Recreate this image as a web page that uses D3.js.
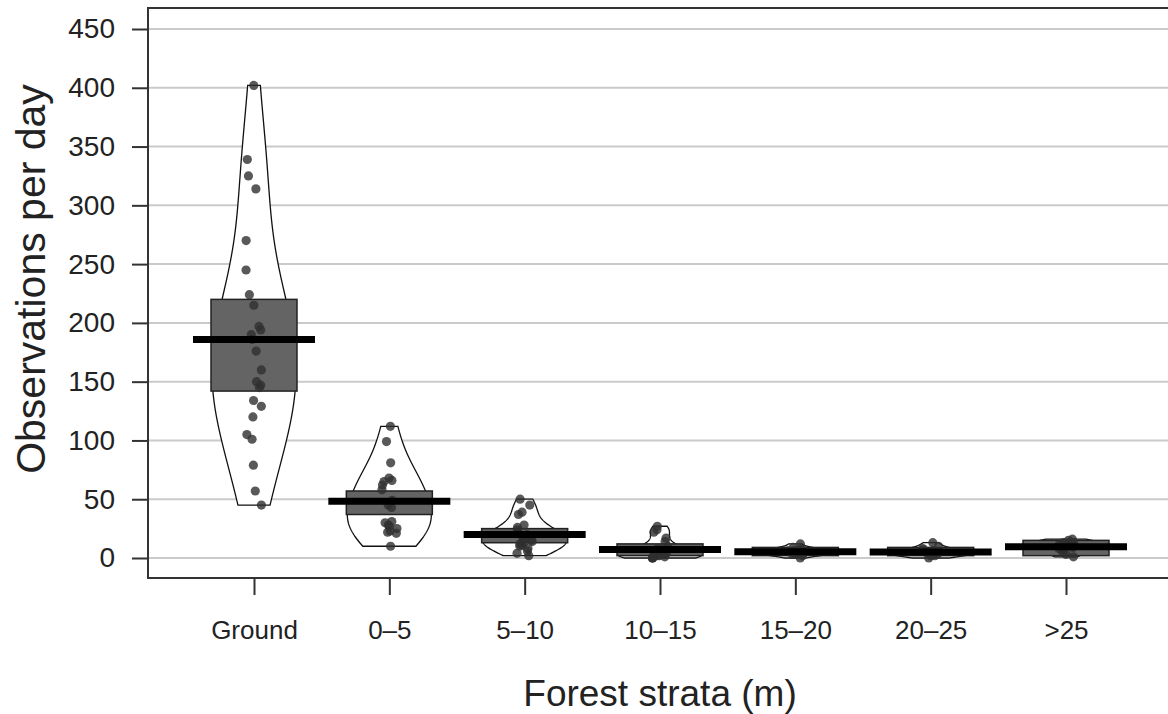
<!DOCTYPE html>
<html>
<head>
<meta charset="utf-8">
<script src="https://cdn.jsdelivr.net/npm/d3@7"></script>
<style>
  body { margin: 0; background: #fff; }
  svg { display: block; }
  text { font-family: "Liberation Sans", Arial, sans-serif; fill: #222; }
</style>
</head>
<body>
<svg id="chart" width="1168" height="714"></svg>
<script>
// Forest strata categories (x axis)
const strata = ["Ground", "0–5", "5–10", "10–15", "15–20", "20–25", ">25"];

// Daily observation counts per stratum
const obsGround = [402, 339, 325, 314, 270, 245, 224, 215, 197, 194, 190, 186, 176, 160, 150, 147, 145, 134, 129, 120, 105, 101, 79, 57, 45];
const obs0to5   = [112, 99, 81, 68, 66, 65, 62, 58, 49, 45, 43, 31, 30, 28, 27, 25, 23, 22, 21, 10];
const obs5to10  = [50, 45, 39, 37, 28, 26, 24, 22, 20, 19, 18, 16, 15, 14, 13, 12, 11, 10, 8, 6, 4, 2];
const obs10to15 = [27, 24, 22, 17, 14, 10, 8, 7, 6, 5, 4, 4, 3, 3, 2, 2, 1, 1, 1, 0, 0, 0];
const obs15to20 = [12, 9, 8, 7, 6, 6, 6, 5, 5, 4, 4, 3, 3, 2, 0];
const obs20to25 = [13, 10, 8, 7, 6, 5, 5, 4, 4, 3, 3, 2, 2, 0];
const obsAbove25 = [16, 15, 13, 13, 12, 11, 11, 10, 10, 9, 8, 7, 5, 3, 1];

// Inference band limits around each mean
const bandLow  = [142, 37, 13, 2, 2, 2, 2];
const bandHigh = [220, 57, 25, 12, 9, 9, 15];

// Y axis tick values
const yTicks = [0, 50, 100, 150, 200, 250, 300, 350, 400, 450];

const groups = [obsGround, obs0to5, obs5to10, obs10to15, obs15to20, obs20to25, obsAbove25];

const svg = d3.select("#chart");
const W = 1168, H = 714;
const panel = { left: 148, top: 8, bottom: 578, right: W + 2 };

const x = d3.scalePoint().domain(strata).range([254, 1066]);
const y = d3.scaleLinear().domain([0, 450]).range([558, 29]);

// Horizontal grid
svg.append("g").selectAll("line").data(yTicks).join("line")
  .attr("x1", panel.left).attr("x2", panel.right)
  .attr("y1", d => y(d)).attr("y2", d => y(d))
  .attr("stroke", "#cacaca").attr("stroke-width", 2);

// Kernel density (Gaussian, Silverman bandwidth x adjust) truncated to the data range
const bwAdjust = 1.5;
function bandwidth(v) {
  const s = v.slice().sort(d3.ascending);
  const sd = d3.deviation(s);
  const iqr = d3.quantile(s, 0.75) - d3.quantile(s, 0.25);
  let lo = Math.min(sd, iqr / 1.34);
  if (!(lo > 0)) lo = sd || 1;
  return bwAdjust * 0.9 * lo * Math.pow(s.length, -0.2);
}
function density(v) {
  const bw = bandwidth(v);
  const [mn, mx] = d3.extent(v);
  const n = 120;
  return d3.range(n + 1).map(i => {
    const t = mn + (mx - mn) * i / n;
    const d = d3.mean(v, xi => Math.exp(-0.5 * ((t - xi) / bw) ** 2));
    return [t, d];
  });
}

const beanHalf = 42, bandHalf = 43, lineHalf = 61;
const rng = d3.randomUniform.source(d3.randomLcg(0.37))(-8, 8);

const plot = svg.append("g");

// Beans
groups.forEach((vals, i) => {
  const cx = x(strata[i]);
  const dens = density(vals);
  const dmax = d3.max(dens, d => d[1]);
  const left = dens.map(([t, d]) => [cx - d / dmax * beanHalf, y(t)]);
  const right = dens.slice().reverse().map(([t, d]) => [cx + d / dmax * beanHalf, y(t)]);
  plot.append("path")
    .attr("d", d3.line()(left.concat(right)) + "Z")
    .attr("fill", "#fff").attr("stroke", "#111").attr("stroke-width", 1.3);
});

// Inference bands
groups.forEach((vals, i) => {
  const cx = x(strata[i]);
  plot.append("rect")
    .attr("x", cx - bandHalf).attr("width", bandHalf * 2)
    .attr("y", y(bandHigh[i])).attr("height", y(bandLow[i]) - y(bandHigh[i]))
    .attr("fill", "#646464").attr("stroke", "#222").attr("stroke-width", 1.5);
});

// Raw observations
groups.forEach((vals, i) => {
  const cx = x(strata[i]);
  plot.append("g").selectAll("circle").data(vals).join("circle")
    .attr("cx", () => cx + rng()).attr("cy", d => y(d)).attr("r", 4.6)
    .attr("fill", "#303030").attr("fill-opacity", 0.8);
});

// Mean lines
groups.forEach((vals, i) => {
  const cx = x(strata[i]);
  const m = d3.mean(vals);
  plot.append("line")
    .attr("x1", cx - lineHalf).attr("x2", cx + lineHalf)
    .attr("y1", y(m)).attr("y2", y(m))
    .attr("stroke", "#000").attr("stroke-width", 7);
});

// Axes
const yAxis = svg.append("g").attr("transform", `translate(${panel.left},0)`)
  .call(d3.axisLeft(y).tickValues(yTicks).tickSize(16).tickPadding(17));
yAxis.select(".domain").remove();
yAxis.selectAll(".tick line").attr("stroke", "#333").attr("stroke-width", 2);
yAxis.selectAll(".tick text").attr("font-size", 28).attr("font-family", "Liberation Sans, Arial, sans-serif").attr("fill", "#222");

const xAxis = svg.append("g").attr("transform", `translate(0,${panel.bottom})`)
  .call(d3.axisBottom(x).tickSize(17).tickPadding(26));
xAxis.select(".domain").remove();
xAxis.selectAll(".tick line").attr("stroke", "#333").attr("stroke-width", 2);
xAxis.selectAll(".tick text").attr("font-size", 26).attr("font-family", "Liberation Sans, Arial, sans-serif").attr("fill", "#222");

// Panel frame (left, top, bottom)
svg.append("path")
  .attr("d", `M${panel.right},${panel.top}H${panel.left}V${panel.bottom}H${panel.right}`)
  .attr("fill", "none").attr("stroke", "#333").attr("stroke-width", 2);

// Axis titles
svg.append("text")
  .attr("x", 660).attr("y", 706)
  .attr("text-anchor", "middle").attr("font-size", 37)
  .text("Forest strata (m)");

svg.append("text")
  .attr("transform", "translate(45,279) rotate(-90)")
  .attr("text-anchor", "middle").attr("font-size", 41)
  .text("Observations per day");
</script>
</body>
</html>
